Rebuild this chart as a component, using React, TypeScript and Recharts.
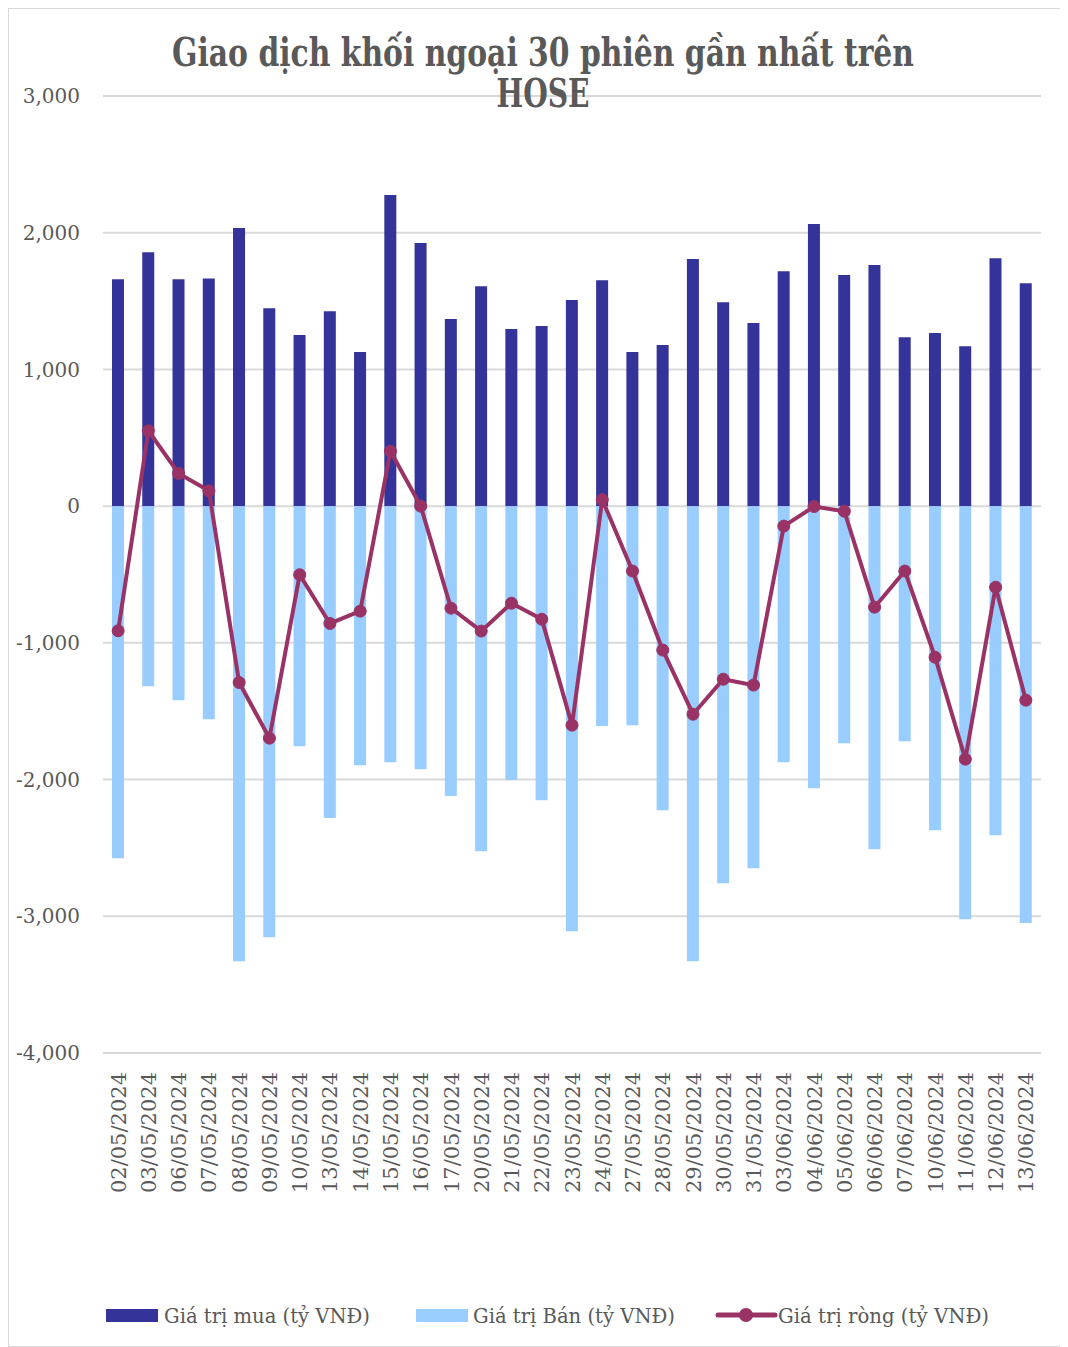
import {
  ComposedChart,
  Bar,
  Line,
  XAxis,
  YAxis,
  CartesianGrid,
} from "recharts"

const dates = [
  "02/05/2024", "03/05/2024", "06/05/2024", "07/05/2024", "08/05/2024",
  "09/05/2024", "10/05/2024", "13/05/2024", "14/05/2024", "15/05/2024",
  "16/05/2024", "17/05/2024", "20/05/2024", "21/05/2024", "22/05/2024",
  "23/05/2024", "24/05/2024", "27/05/2024", "28/05/2024", "29/05/2024",
  "30/05/2024", "31/05/2024", "03/06/2024", "04/06/2024", "05/06/2024",
  "06/06/2024", "07/06/2024", "10/06/2024", "11/06/2024", "12/06/2024",
  "13/06/2024",
]

// Giá trị mua
const buyValues = [
  1660, 1858, 1660, 1665, 2034, 1448, 1251, 1426, 1127, 2275,
  1924, 1368, 1609, 1295, 1317, 1507, 1653, 1127, 1178, 1807,
  1492, 1339, 1719, 2063, 1690, 1763, 1236, 1266, 1170, 1814,
  1631,
]

// Giá trị bán
const sellValues = [
  -2575, -1317, -1419, -1558, -3328, -3153, -1756, -2282, -1895, -1873,
  -1924, -2121, -2524, -2004, -2151, -3109, -1609, -1602, -2224, -3328,
  -2758, -2648, -1873, -2063, -1734, -2509, -1719, -2370, -3021, -2407,
  -3050,
]

// Giá trị ròng
const netValues = [
  -912, 551, 239, 112, -1290, -1697, -502, -858, -768, 402,
  0, -746, -914, -710, -827, -1602, 48, -475, -1053, -1522,
  -1266, -1309, -146, -3, -37, -739, -475, -1105, -1851, -593,
  -1419,
]

const yTicks = [-4000, -3000, -2000, -1000, 0, 1000, 2000, 3000]

const data = dates.map((d, i) => ({
  date: d,
  buy: buyValues[i],
  sell: sellValues[i],
  net: netValues[i],
}))

const FONT = "'DejaVu Serif', serif"
const TEXT = "#595959"

const fmt = (v: number) => v.toLocaleString("en-US")

function DateTick({ x, y, payload }: any) {
  return (
    <g transform={`translate(${x},${y})`}>
      <text
        transform="rotate(-90)"
        x={-19}
        dy="0.36em"
        textAnchor="end"
        fill={TEXT}
        fontSize={21}
        fontFamily={FONT}
      >
        {payload.value}
      </text>
    </g>
  )
}

export default function App() {
  return (
    <div
      style={{
        position: "relative",
        width: 1053,
        height: 1337,
        border: "1px solid #d9d9d9",
        background: "#fff",
      }}
    >
      <ComposedChart
        width={1053}
        height={1337}
        data={data}
        stackOffset="sign"
        margin={{ top: 87, right: 21, left: 0, bottom: 93 }}
      >
        <CartesianGrid vertical={false} stroke="#d9d9d9" strokeWidth={2} />
        <XAxis
          dataKey="date"
          interval={0}
          axisLine={false}
          tickLine={false}
          tickSize={0}
          tickMargin={0}
          height={200}
          tick={<DateTick />}
        />
        <YAxis
          domain={[-4000, 3000]}
          ticks={yTicks}
          width={94}
          axisLine={false}
          tickLine={false}
          tickSize={0}
          tickMargin={23}
          tickFormatter={fmt}
          tick={{ fill: TEXT, fontSize: 20, fontFamily: FONT }}
        />
        <Bar
          dataKey="buy"
          stackId="s"
          fill="#333399"
          barSize={12}
          isAnimationActive={false}
        />
        <Bar
          dataKey="sell"
          stackId="s"
          fill="#99ccff"
          barSize={12}
          isAnimationActive={false}
        />
        <Line
          dataKey="net"
          stroke="#993366"
          strokeWidth={4}
          dot={{ r: 6, fill: "#993366", stroke: "#993366", strokeWidth: 1 }}
          isAnimationActive={false}
        />
      </ComposedChart>

      {/* title + legend */}
      <svg
        width={1053}
        height={1337}
        style={{ position: "absolute", left: 0, top: 0, pointerEvents: "none" }}
      >
        <g fontFamily={FONT} fill={TEXT} fontWeight="bold" fontSize={29}>
          <g transform="translate(534,57) scale(1,1.35)">
            <text x={0} y={0} textAnchor="middle" textLength={742} lengthAdjust="spacingAndGlyphs">
              Giao dịch khối ngoại 30 phiên gần nhất trên
            </text>
          </g>
          <g transform="translate(534,98) scale(1,1.35)">
            <text x={0} y={0} textAnchor="middle" textLength={93} lengthAdjust="spacingAndGlyphs">
              HOSE
            </text>
          </g>
        </g>
        <g fontFamily={FONT} fill={TEXT} fontSize={21}>
          <rect x={97} y={1300} width={52} height={13} fill="#333399" />
          <text x={155} y={1314} textLength={206} lengthAdjust="spacingAndGlyphs">
            Giá trị mua (tỷ VNĐ)
          </text>
          <rect x={407} y={1300} width={52} height={13} fill="#99ccff" />
          <text x={464} y={1314} textLength={202} lengthAdjust="spacingAndGlyphs">
            Giá trị Bán (tỷ VNĐ)
          </text>
          <line x1={709} y1={1306} x2={766} y2={1306} stroke="#993366" strokeWidth={5} strokeLinecap="round" />
          <circle cx={737} cy={1306} r={7} fill="#993366" />
          <text x={769} y={1314} textLength={211} lengthAdjust="spacingAndGlyphs">
            Giá trị ròng (tỷ VNĐ)
          </text>
        </g>
      </svg>
    </div>
  )
}
